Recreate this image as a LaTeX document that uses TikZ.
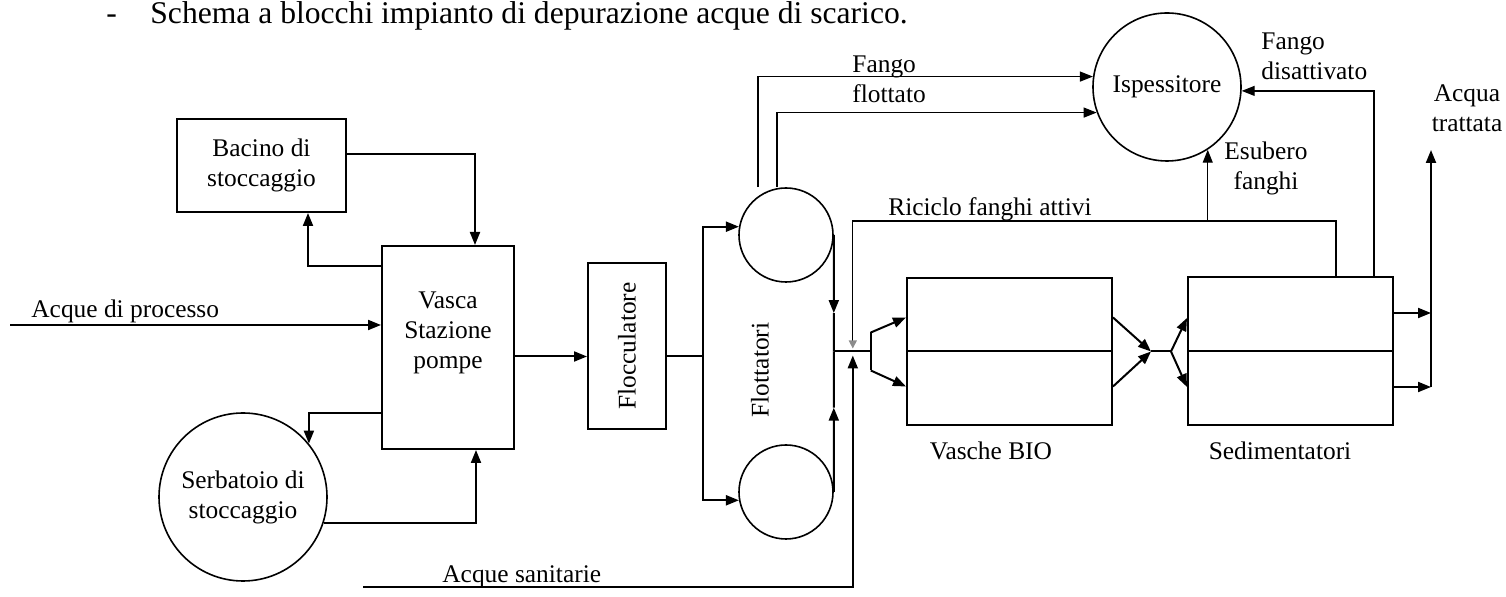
\documentclass[tikz,border=0pt]{standalone}
\usepackage{fontspec}
\setmainfont{Liberation Serif}
\usepackage{graphicx}
\usetikzlibrary{arrows.meta, calc, positioning}
\newcommand{\lblfont}{\fontsize{12.7}{15}\selectfont}
\newcommand{\titlefont}{\fontsize{15.8}{18}\selectfont}
\tikzset{
    box/.style={rectangle, draw, line width=1pt, inner sep=0pt, font=\lblfont, align=center},
    tank/.style={circle, draw, line width=0.8pt, inner sep=0pt, font=\lblfont, align=center},
    lbl/.style={inner sep=0pt, font=\lblfont, align=center},
    pipe/.style={line width=1pt},
    flow/.style={-{Triangle[length=6.5pt, width=5pt]}, line width=1pt},
    sludge/.style={-{Triangle[length=6.5pt, width=5pt]}, line width=0.6pt},
    recycle/.style={-{Triangle[length=4pt, width=4pt, color=black!45]}, line width=0.55pt},
}
\newcommand{\splitFlow}[3]{
    % freccia a meta' del tratto
    \coordinate (tip) at ($(#1)!#3!(#2)$);
    \draw[flow] (#1) -- (tip);
    \draw[pipe] (tip) -- (#2);
}
\begin{document}
\begin{tikzpicture}[x=0.5pt, y=-0.5pt]
    \useasboundingbox (0,0) rectangle (1506,597);

    \node[lbl, font=\titlefont, anchor=base west] (dash) at (106,24) {-};
    \node[lbl, font=\titlefont, anchor=base west] (title) at (150,24) {Schema a blocchi impianto di depurazione acque di scarico.};

    \node[box, minimum width=84.5pt, minimum height=46.5pt] (bacino) at (261.5,165.5) {Bacino di\\stoccaggio};
    \node[box, minimum width=66pt, minimum height=101.5pt, label={[lbl, yshift=7.5pt]center:Vasca\\Stazione\\pompe}] (vasca) at (448,347.5) {};
    \node[tank, minimum size=84pt] (serb) at (243,497) {Serbatoio di\\stoccaggio};
    \node[box, minimum width=39pt, minimum height=83pt] (flocc) at (627,346) {\rotatebox{90}{Flocculatore}};
    \node[tank, minimum size=47pt] (fl1) at (786,235) {};
    \node[tank, minimum size=47pt] (fl2) at (786,492) {};
    \node[lbl, rotate=90] (flott) at (760,370) {Flottatori};
    \node[tank, minimum size=74pt] (isp) at (1167,87) {Ispessitore};
    \node[box, minimum width=102.5pt, minimum height=73.5pt] (bio) at (1009.5,351.5) {};
    \node[box, minimum width=102.5pt, minimum height=74pt] (sed) at (1290.5,351) {};
    \draw[pipe] (bio.west) -- (bio.east);
    \draw[pipe] (sed.west) -- (sed.east);

    \node[lbl, anchor=base west] (lproc) at (31,318) {Acque di processo};
    \node[lbl, anchor=base west] (lsan) at (442,583) {Acque sanitarie};
    \node[lbl, anchor=base west, align=left] (lflot) at (852,103) {Fango\\flottato};
    \node[lbl, anchor=base west] (lric) at (888,216) {Riciclo fanghi attivi};
    \node[lbl, anchor=base west, align=left] (ldis) at (1261,80) {Fango\\disattivato};
    \node[lbl, anchor=base] (lesu) at (1266,190) {Esubero\\fanghi};
    \node[lbl, anchor=base] (lacq) at (1467,132) {Acqua\\trattata};
    \node[lbl, anchor=base] (lbio) at (991,460) {Vasche BIO};
    \node[lbl, anchor=base] (lsed) at (1280,460) {Sedimentatori};

    \draw[flow] ($(bacino.east)+(0,-11.5)$) -| ($(vasca.north)+(27,0)$);
    \draw[flow] ($(vasca.west)+(0,-81.5)$) -| ($(bacino.south)+(46.5,0)$);
    \coordinate (inproc) at (10,325);
    \draw[flow] (inproc) -- (inproc -| vasca.west);
    \draw[flow] ($(vasca.west)+(0,65.5)$) -| (serb.39);
    \draw[flow] (serb.342) -| ($(vasca.south)+(28,0)$);

    \coordinate (v2f) at ($(vasca.east)+(0,9)$);
    \draw[flow] (v2f) -- (v2f -| flocc.west);
    \coordinate (f2b) at ($(flocc.east)+(0,10)$);
    \coordinate (brx) at ($(f2b)+(36,0)$);
    \draw[pipe] (f2b) -- (brx);
    \draw[flow] (brx) |- (fl1.170);
    \draw[flow] (brx) |- (fl2.190);

    \coordinate (jn) at (fl1.east |- bio.west);
    \splitFlow{fl1.east}{jn}{0.67}
    \splitFlow{fl2.east}{jn}{0.6}
    \coordinate (fk) at ($(jn)+(37,0)$);
    \draw[pipe] (jn) -- (fk);
    \draw[pipe] ($(fk)+(0,-19)$) -- ($(fk)+(0,19)$);
    \draw[flow] ($(fk)+(0,-19)$) -- ($(bio.west)+(0,-34)$);
    \draw[flow] ($(fk)+(0,19)$) -- ($(bio.west)+(0,35)$);

    \coordinate (ri) at ($(jn)+(19,0)$);
    \coordinate (ric) at ($(sed.north)+(45.5,-55)$);
    \draw[recycle, shorten >=1.5pt] ($(sed.north)+(45.5,0)$) -- (ric) -| (ri);
    \draw[sludge] (isp.303 |- ric) -- (isp.303);
    \coordinate (insan) at (363,587);
    \draw[flow, shorten >=2pt] (insan) -| (ri);

    \draw[sludge] ($(fl1.north)+(-28,0)$) |- (isp.172);
    \draw[sludge] ($(fl1.north)+(-9,0)$) |- (isp.200);
    \draw[sludge] ($(sed.north)+(83.5,0)$) |- (isp.357);

    \coordinate (mg) at ($(bio.east)+(38,0)$);
    \draw[flow] ($(bio.east)+(0,-34)$) -- (mg);
    \draw[flow] ($(bio.east)+(0,35)$) -- (mg);
    \coordinate (fk2) at ($(mg)+(20,0)$);
    \draw[pipe] (mg) -- (fk2);
    \draw[flow] (fk2) -- ($(sed.west)+(0,-33)$);
    \draw[flow] (fk2) -- ($(sed.west)+(0,36)$);

    \coordinate (outx) at ($(sed.east)+(37,0)$);
    \draw[flow] ($(sed.east)+(0,-38)$) -- ($(outx)+(0,-38)$);
    \draw[flow] ($(sed.east)+(0,36)$) -- ($(outx)+(0,36)$);
    \coordinate (outtop) at ($(outx)+(0,-201)$);
    \draw[flow] ($(outx)+(0,36)$) -- (outtop);
\end{tikzpicture}
\end{document}
